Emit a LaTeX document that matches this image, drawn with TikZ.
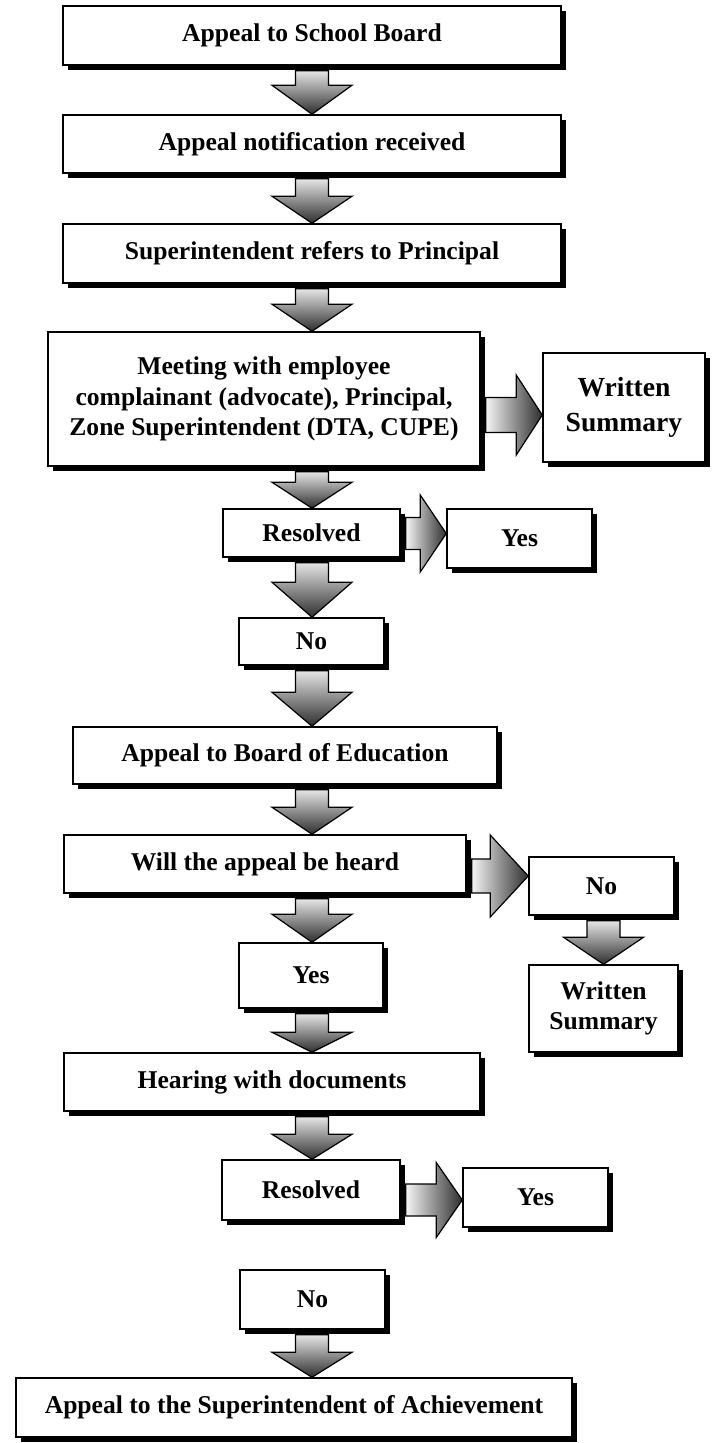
\documentclass[tikz,border=0pt]{standalone}
\usepackage{fontspec}
\setmainfont{Liberation Serif}
\usetikzlibrary{shadows,calc}
\newcommand{\vblk}[3]{%
  \path[vshade] let \p1=(#1), \p2=(#2) in
    (\x2-8.25pt,\y1-2.5pt) -- (\x2-8.25pt,\y2+#3*0.5pt) -- (\x2-20pt,\y2+#3*0.5pt) -- (\x2,\y2)
    -- (\x2+20pt,\y2+#3*0.5pt) -- (\x2+8.25pt,\y2+#3*0.5pt) -- (\x2+8.25pt,\y1-2.5pt) -- cycle;}
\newcommand{\hblk}[6]{%
  \path[hshade] let \p1=(#1), \p2=(#2) in
    (\x1+2.5pt,-#3*0.5pt+#4*0.5pt) -- (\x2-#6*0.5pt,-#3*0.5pt+#4*0.5pt) -- (\x2-#6*0.5pt,-#3*0.5pt+#5*0.5pt)
    -- (\x2,-#3*0.5pt) -- (\x2-#6*0.5pt,-#3*0.5pt-#5*0.5pt) -- (\x2-#6*0.5pt,-#3*0.5pt-#4*0.5pt)
    -- (\x1+2.5pt,-#3*0.5pt-#4*0.5pt) -- cycle;}
\begin{document}
\begin{tikzpicture}[x=0.5pt,y=-0.5pt,
  box/.style={draw=black, line width=0.75pt, fill=white, inner sep=0pt, align=center,
    font=\bfseries\fontsize{12.8}{15.25}\selectfont,
    drop shadow={shadow xshift=2.5pt, shadow yshift=-2.5pt, fill=black, opacity=1}},
  vshade/.style={draw=black, line width=0.6pt, top color=black!10, bottom color=black!82},
  hshade/.style={draw=black, line width=0.6pt, left color=black!4, right color=black!82}]
\useasboundingbox (0,0) rectangle (714,1443);
\coordinate (col) at (312,0);
% main column
\node[box, minimum width=249pt, minimum height=29.5pt] (b1) at (312,35.5) {Appeal to School Board};
\node[box, minimum width=249pt, minimum height=29pt] (b2) at (312,144) {Appeal notification received};
\node[box, minimum width=249pt, minimum height=29.5pt] (b3) at (312,253.5) {Superintendent refers to Principal};
\node[box, minimum width=216pt, minimum height=67pt] (meet) at (264,399) {Meeting with employee\\complainant (advocate), Principal,\\Zone Superintendent (DTA, CUPE)};
\node[box, minimum width=81pt, minimum height=54.5pt, font=\bfseries\fontsize{13.8}{17.5}\selectfont] (ws1) at (624,407.5) {Written\\Summary};
\node[box, minimum width=88.5pt, minimum height=24pt] (res1) at (311.5,533) {Resolved};
\node[box, minimum width=72.5pt, minimum height=29.5pt] (yes1) at (519.5,538.5) {Yes};
\node[box, minimum width=72.5pt, minimum height=23.5pt] (no1) at (311.5,641.5) {No};
\node[box, minimum width=212pt, minimum height=28.5pt] (board) at (285,755.5) {Appeal to Board of Education};
\node[box, minimum width=201pt, minimum height=29pt] (will) at (265,864) {Will the appeal be heard};
\node[box, minimum width=72.5pt, minimum height=29pt] (noR) at (601.5,886) {No};
\node[box, minimum width=74.5pt, minimum height=43.5pt, font=\bfseries\fontsize{12.8}{15}\selectfont] (ws2) at (603.5,1008.5) {Written\\Summary};
\node[box, minimum width=72pt, minimum height=32.5pt] (yes2) at (311,975.5) {Yes};
\node[box, minimum width=208pt, minimum height=29pt] (hear) at (272,1082) {Hearing with documents};
\node[box, minimum width=89pt, minimum height=30pt] (res2) at (311,1190) {Resolved};
\node[box, minimum width=72.5pt, minimum height=29.5pt] (yes2R) at (535.5,1197.5) {Yes};
\node[box, minimum width=72.5pt, minimum height=29.5pt] (no2) at (312.5,1299.5) {No};
\node[box, minimum width=278pt, minimum height=29.5pt] (final) at (294,1407.5) {Appeal to the Superintendent of Achievement};
% down arrows
\vblk{col |- b1.south}{col |- b2.north}{29}
\vblk{col |- b2.south}{col |- b3.north}{27}
\vblk{col |- b3.south}{col |- meet.north}{27}
\vblk{col |- meet.south}{col |- res1.north}{26}
\vblk{col |- res1.south}{col |- no1.north}{35}
\vblk{col |- no1.south}{col |- board.north}{34}
\vblk{col |- board.south}{col |- will.north}{27}
\vblk{col |- will.south}{col |- yes2.north}{28}
\vblk{col |- yes2.south}{col |- hear.north}{20}
\vblk{col |- hear.south}{col |- res2.north}{25}
\vblk{col |- no2.south}{col |- final.north}{25}
\vblk{noR.south}{ws2.north}{27}
% right arrows
\hblk{meet.east}{ws1.west}{415}{17.5}{40}{26}
\hblk{res1.east}{yes1.west}{533.5}{16}{38.5}{26}
\hblk{will.east}{noR.west}{876}{17}{41}{38}
\hblk{res2.east}{yes2R.west}{1200}{16}{37.5}{26}
\end{tikzpicture}
\end{document}
